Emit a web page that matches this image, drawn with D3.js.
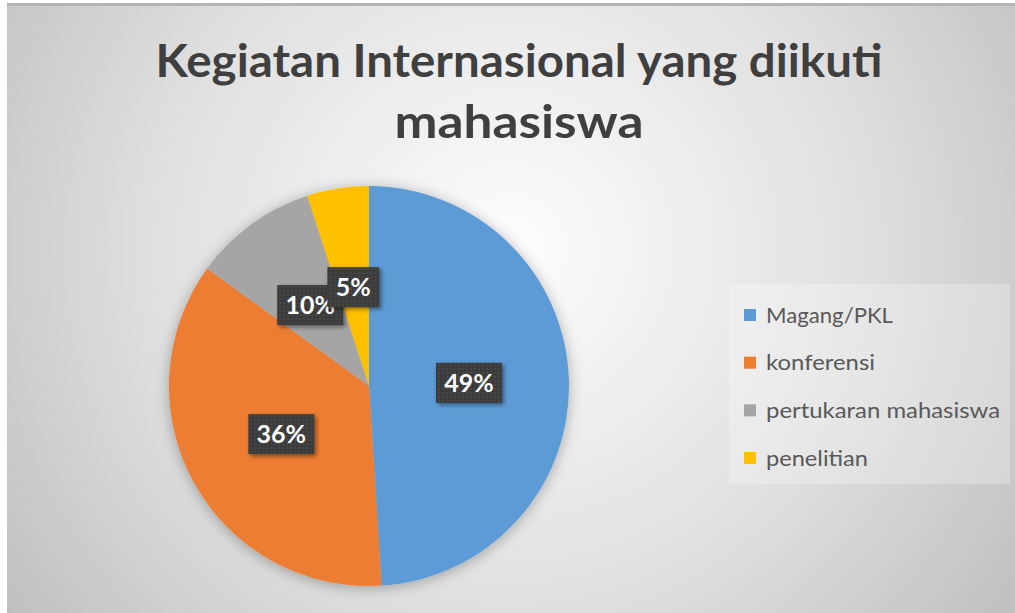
<!DOCTYPE html>
<html>
<head>
<meta charset="utf-8">
<script src="https://cdn.jsdelivr.net/npm/d3@7"></script>
<style>
  body { margin: 0; background: #fff; }
  svg { display: block; }
</style>
</head>
<body>
<svg id="chart" width="1015" height="613"></svg>
<script>
// data
var categories = ["Magang/PKL", "konferensi", "pertukaran mahasiswa", "penelitian"];
var shares = [49, 36, 10, 5];
var colors = ["#5b9bd5", "#ed7d31", "#a5a5a5", "#ffc000"];
var titleLines = ["Kegiatan Internasional yang diikuti", "mahasiswa"];

var svg = d3.select("#chart");
var width = 1015, height = 613;
var defs = svg.append("defs");

// background gradient
var bg = defs.append("radialGradient")
    .attr("id", "bg")
    .attr("gradientUnits", "userSpaceOnUse")
    .attr("cx", 510).attr("cy", 250).attr("r", 640);
bg.append("stop").attr("offset", 0).attr("stop-color", "#fdfdfd");
bg.append("stop").attr("offset", 0.55).attr("stop-color", "#e0e0e0");
bg.append("stop").attr("offset", 1).attr("stop-color", "#bdbdbd");

// dotted fill for the label boxes
var pat = defs.append("pattern")
    .attr("id", "dots")
    .attr("patternUnits", "userSpaceOnUse")
    .attr("width", 4).attr("height", 4);
pat.append("rect").attr("width", 4).attr("height", 4).attr("fill", "#3a3a3a");
pat.append("circle").attr("cx", 2).attr("cy", 2).attr("r", 0.8).attr("fill", "#5a5a5a");

var pieShadow = defs.append("filter").attr("id", "pieShadow")
    .attr("x", "-20%").attr("y", "-20%").attr("width", "140%").attr("height", "140%");
pieShadow.append("feDropShadow")
    .attr("dx", 0).attr("dy", 2).attr("stdDeviation", 7)
    .attr("flood-color", "#000").attr("flood-opacity", 0.3);

var boxShadow = defs.append("filter").attr("id", "boxShadow")
    .attr("x", "-30%").attr("y", "-30%").attr("width", "160%").attr("height", "160%");
boxShadow.append("feDropShadow")
    .attr("dx", 2).attr("dy", 2).attr("stdDeviation", 2)
    .attr("flood-color", "#000").attr("flood-opacity", 0.45);

// chart area
svg.append("rect")
    .attr("x", 7).attr("y", 3)
    .attr("width", width - 7).attr("height", height - 3)
    .attr("fill", "url(#bg)");
svg.append("rect")
    .attr("x", 7).attr("y", 3)
    .attr("width", width - 7).attr("height", 3)
    .attr("fill", "#b4b4b4");

// title
var titleWidths = [727, 249];
svg.selectAll("text.title")
    .data(titleLines)
    .enter()
    .append("text")
    .attr("class", "title")
    .attr("x", 519)
    .attr("y", function(d, i) { return 77 + i * 61; })
    .attr("text-anchor", "middle")
    .attr("textLength", function(d, i) { return titleWidths[i]; })
    .attr("lengthAdjust", "spacingAndGlyphs")
    .style("font-family", "Lato, 'Open Sans', sans-serif")
    .style("font-weight", "bold")
    .style("font-size", "45px")
    .style("fill", "#3f3f3f")
    .text(function(d) { return d; });

// pie
var radius = 200;
var cx = 369, cy = 386;
var pie = d3.pie().sort(null).value(function(d) { return d; });
var arc = d3.arc().innerRadius(0).outerRadius(radius);
var arcs = pie(shares);
var color = d3.scaleOrdinal().domain(categories).range(colors);

var g = svg.append("g").attr("transform", "translate(" + cx + "," + cy + ")");
g.append("g")
    .attr("filter", "url(#pieShadow)")
    .selectAll("path")
    .data(arcs)
    .enter()
    .append("path")
    .attr("d", arc)
    .attr("fill", function(d, i) { return color(categories[i]); });

// data labels
var labels = g.selectAll("g.label")
    .data(arcs)
    .enter()
    .append("g")
    .attr("class", "label")
    .attr("transform", function(d) {
        var c = arc.centroid(d);
        return "translate(" + c[0] + "," + c[1] + ")";
    });

labels.append("rect")
    .attr("x", function(d) { return d.data < 10 ? -26 : -33; })
    .attr("y", -20)
    .attr("width", function(d) { return d.data < 10 ? 52 : 66; })
    .attr("height", 40)
    .attr("fill", "url(#dots)")
    .attr("filter", "url(#boxShadow)");

labels.append("text")
    .attr("text-anchor", "middle")
    .attr("dy", "0.36em")
    .style("font-family", "Lato, 'Open Sans', sans-serif")
    .style("font-weight", "bold")
    .style("font-size", "25px")
    .style("fill", "#ffffff")
    .text(function(d) { return d.data + "%"; });

// legend
var legendX = 729, legendY = 284;
svg.append("rect")
    .attr("x", legendX).attr("y", legendY)
    .attr("width", 281).attr("height", 200)
    .attr("fill", "#ffffff").attr("fill-opacity", 0.25);

var legendY0 = d3.scalePoint().domain(categories).range([315, 458]);
var legendWidths = [127, 109, 234, 102];
var items = svg.selectAll("g.legend")
    .data(categories)
    .enter()
    .append("g")
    .attr("class", "legend")
    .attr("transform", function(d) { return "translate(744," + legendY0(d) + ")"; });

items.append("rect")
    .attr("x", 0).attr("y", -6)
    .attr("width", 12).attr("height", 12)
    .attr("fill", function(d) { return color(d); });

items.append("text")
    .attr("x", 22)
    .attr("dy", "0.35em")
    .attr("textLength", function(d, i) { return legendWidths[i]; })
    .attr("lengthAdjust", "spacingAndGlyphs")
    .style("font-family", "Lato, 'Open Sans', sans-serif")
    .style("font-size", "22px")
    .style("fill", "#595959")
    .text(function(d) { return d; });
</script>
</body>
</html>
